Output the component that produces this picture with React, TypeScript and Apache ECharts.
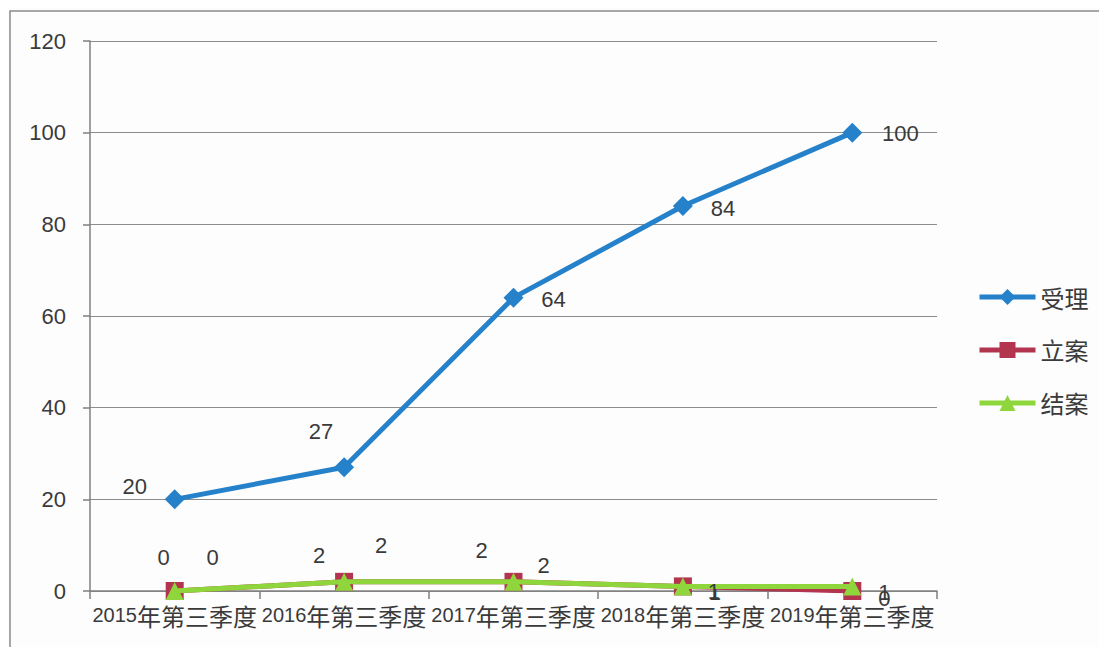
import React, { useEffect, useRef } from "react";
import * as echarts from "echarts";

const categories = ["2015年第三季度", "2016年第三季度", "2017年第三季度", "2018年第三季度", "2019年第三季度"];
const shouli = [20, 27, 64, 84, 100];
const lian = [0, 2, 2, 1, 0];
const jiean = [0, 2, 2, 1, 1];
const yTicks = { min: 0, max: 120, interval: 20 };

// label offsets (relative to point centre)
const shouliLabelOffsets = [[-40, -13], [-23, -36], [40, 2], [40, 2], [48, 1]];
const lianLabelOffsets = [[-11, -34], [-25, -26], [-32, -31], [32, 6], [32, 7]];
const jieanLabelOffsets = [[38, -34], [37, -36], [30, -16], [31, 5], [32, 6]];

const FONT = "'Liberation Sans', 'Noto Sans CJK SC', sans-serif";
const CJK = "'Noto Sans CJK SC', sans-serif";
const TEXT = "#3a3a3a";

function withLabels(values: number[], offsets: number[][]) {
  return values.map((v, i) => ({
    value: v,
    label: { show: true, position: "inside", offset: offsets[i] },
  }));
}

export default function App() {
  const ref = useRef<HTMLDivElement>(null);
  useEffect(() => {
    if (!ref.current) return;
    const chart = echarts.init(ref.current, null, { renderer: "svg" });
    const labelStyle = { color: TEXT, fontSize: 22, fontFamily: FONT };
    chart.setOption({
      animation: false,
      backgroundColor: "#fdfdfd",
      graphic: [
        {
          type: "rect",
          shape: { x: 10, y: 11, width: 1110, height: 641 },
          style: { fill: "none", stroke: "#8a8a8a", lineWidth: 1.5 },
          silent: true,
        },
      ],
      grid: { left: 90, right: 170, top: 41, bottom: 64, containLabel: false },
      legend: {
        orient: "vertical",
        left: 972,
        top: 280,
        itemWidth: 56,
        itemHeight: 20,
        itemGap: 29,
        lineStyle: { width: 5 },
        textStyle: { color: TEXT, fontSize: 24, fontFamily: CJK },
        data: ["受理", "立案", "结案"],
      },
      xAxis: {
        type: "category",
        data: categories,
        boundaryGap: true,
        axisLine: { show: true, lineStyle: { color: "#7f7f7f", width: 1.5 } },
        axisTick: { show: true, length: 8, lineStyle: { color: "#7f7f7f", width: 1.5 } },
        axisLabel: {
          interval: 0,
          margin: 12,
          color: TEXT,
          formatter: (v: string) => `{d|${v.slice(0, 4)}}{c|${v.slice(4)}}`,
          rich: {
            d: { fontSize: 20, fontFamily: FONT, color: TEXT },
            c: { fontSize: 24, fontFamily: CJK, color: TEXT },
          },
        },
      },
      yAxis: {
        type: "value",
        min: yTicks.min,
        max: yTicks.max,
        interval: yTicks.interval,
        axisLine: { show: true, lineStyle: { color: "#7f7f7f", width: 1.5 } },
        axisTick: { show: true, inside: false, length: 7, lineStyle: { color: "#7f7f7f", width: 1.5 } },
        axisLabel: { color: TEXT, fontSize: 22, fontFamily: FONT, margin: 24 },
        splitLine: { show: true, lineStyle: { color: "#8c8c8c", width: 1.2 } },
      },
      series: [
        {
          name: "受理",
          type: "line",
          data: withLabels(shouli, shouliLabelOffsets),
          symbol: "diamond",
          symbolSize: 20,
          itemStyle: { color: "#2581c9" },
          lineStyle: { color: "#2581c9", width: 5 },
          label: labelStyle,
          z: 3,
        },
        {
          name: "立案",
          type: "line",
          data: withLabels(lian, lianLabelOffsets),
          symbol: "rect",
          symbolSize: 18,
          itemStyle: { color: "#b3344e" },
          lineStyle: { color: "#b3344e", width: 5 },
          label: labelStyle,
          z: 2,
        },
        {
          name: "结案",
          type: "line",
          data: withLabels(jiean, jieanLabelOffsets),
          symbol: "triangle",
          symbolSize: 18,
          itemStyle: { color: "#8fd63c" },
          lineStyle: { color: "#8fd63c", width: 5 },
          label: labelStyle,
          z: 4,
        },
      ],
    });
    return () => chart.dispose();
  }, []);
  return <div ref={ref} style={{ width: 1107, height: 655, margin: -8 }} />;
}
